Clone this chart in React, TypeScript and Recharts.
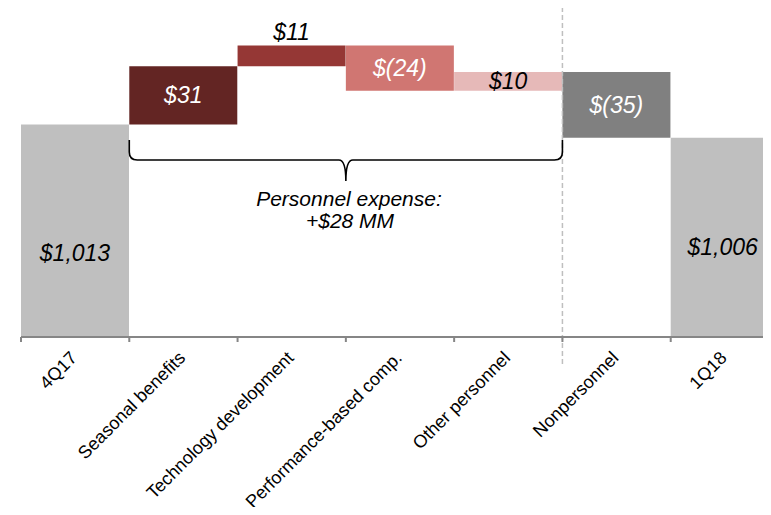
import { BarChart, Bar, XAxis, YAxis, Cell, LabelList, ReferenceLine } from 'recharts';

const CATEGORIES = [
  '4Q17',
  'Seasonal benefits',
  'Technology development',
  'Performance-based comp.',
  'Other personnel',
  'Nonpersonnel',
  '1Q18',
];
// totals first/last, changes in between ($MM)
const VALUES = [1013, 31, 11, -24, 10, -35, 1006];
const IS_TOTAL = [true, false, false, false, false, false, true];
const COLORS = ['#bfbfbf', '#632523', '#953735', '#d07672', '#e6b9b8', '#808080', '#bfbfbf'];
const Y_DOMAIN: [number, number] = [900, 1075];

const FONT = '"Liberation Sans", Arial, sans-serif';
const W = 790;
const H = 515;
const MARGIN = { top: 8, right: 11, left: 21, bottom: 0 };
const X_AXIS_H = 178;
const BAND = (W - MARGIN.left - MARGIN.right) / CATEGORIES.length;

const fmt = (v: number) => (v < 0 ? `$(${Math.abs(v)})` : `$${v.toLocaleString('en-US')}`);

let running = 0;
const data = CATEGORIES.map((name, i) => {
  const v = VALUES[i];
  let range: [number, number];
  if (IS_TOTAL[i]) {
    range = [Y_DOMAIN[0], v];
    running = v;
  } else {
    const start = running;
    running += v;
    range = [Math.min(start, running), Math.max(start, running)];
  }
  return { name, range, label: fmt(v) };
});

const LIGHT_TEXT = [1, 3, 5];
const TOTAL_DY: Record<number, number> = { 0: 22, 6: 10 };

const BarLabel = (props: any) => {
  const { x, y, width, height, value } = props;
  const i = props.index ?? data.findIndex(d => d.label === value);
  const top = Math.min(y, y + height);
  const h = Math.abs(height);
  const cx = x + width / 2 - (i === 6 ? 2 : 0);
  let cy = top + h / 2 + (TOTAL_DY[i] ?? 0);
  if (i === 2) cy = top - 14;
  return (
    <text
      x={cx}
      y={cy}
      textAnchor="middle"
      dominantBaseline="central"
      fontFamily={FONT}
      fontStyle="italic"
      fontSize={23}
      fill={LIGHT_TEXT.includes(i) ? '#ffffff' : '#000000'}
    >
      {value}
    </text>
  );
};

const AxisTick = (props: any) => {
  const { x, y, payload, index } = props;
  const half = payload?.offset || BAND / 2;
  const tx = x + 3;
  const ty = y + 22;
  return (
    <g>
      <line x1={x - half} y1={y} x2={x - half} y2={y + 5} stroke="#868686" strokeWidth={2} />
      {index === CATEGORIES.length - 1 && (
        <line x1={x + half} y1={y} x2={x + half} y2={y + 5} stroke="#868686" strokeWidth={2} />
      )}
      <text
        x={tx}
        y={ty}
        textAnchor="end"
        transform={`rotate(-45, ${tx}, ${ty})`}
        fontFamily={FONT}
        fontSize={18}
        fill="#000"
      >
        {payload.value}
      </text>
    </g>
  );
};

const DashedDivider = (props: any) => {
  const { x1, y1, y2 } = props;
  return (
    <line x1={x1} y1={Math.min(y1, y2) - 1} x2={x1} y2={Math.max(y1, y2) + 28}
      stroke="#bfbfbf" strokeWidth={1.5} strokeDasharray="5 3" />
  );
};

// brace over the personnel items
const bx1 = MARGIN.left + BAND;
const bx2 = MARGIN.left + 5 * BAND;
const bmid = (bx1 + bx2) / 2;
const bracePath = `M${bx1},140 L${bx1},152 Q${bx1},160 ${bx1 + 8},160 L${bmid - 7},160 Q${bmid},160 ${bmid},181 Q${bmid},160 ${bmid + 7},160 L${bx2 - 8},160 Q${bx2},160 ${bx2},152 L${bx2},140`;

export default function App() {
  return (
    <div style={{ margin: -8, width: 771, height: H, overflow: 'hidden', position: 'relative', background: '#fff' }}>
      <BarChart width={W} height={H} data={data} margin={MARGIN} barCategoryGap={0} barGap={0}>
        <YAxis hide domain={Y_DOMAIN} allowDataOverflow />
        <XAxis
          dataKey="name"
          interval={0}
          height={X_AXIS_H}
          axisLine={{ stroke: '#868686', strokeWidth: 2 }}
          tickLine={false}
          tickSize={0}
          tickMargin={0}
          tick={<AxisTick />}
        />
        <Bar dataKey="range" isAnimationActive={false}>
          {data.map((d, i) => (
            <Cell key={d.name} fill={COLORS[i]} />
          ))}
          <LabelList dataKey="label" content={<BarLabel />} />
        </Bar>
        <ReferenceLine x="Nonpersonnel" position="start" shape={<DashedDivider />} />
      </BarChart>
      <svg width={771} height={H} style={{ position: 'absolute', left: 0, top: 0, pointerEvents: 'none' }}>
        <path d={bracePath} fill="none" stroke="#000" strokeWidth={1.6} />
        <text x={349} y={206} textAnchor="middle" fontFamily={FONT} fontStyle="italic" fontSize={21}>
          Personnel expense:
        </text>
        <text x={350} y={228} textAnchor="middle" fontFamily={FONT} fontStyle="italic" fontSize={21}>
          +$28 MM
        </text>
      </svg>
    </div>
  );
}
